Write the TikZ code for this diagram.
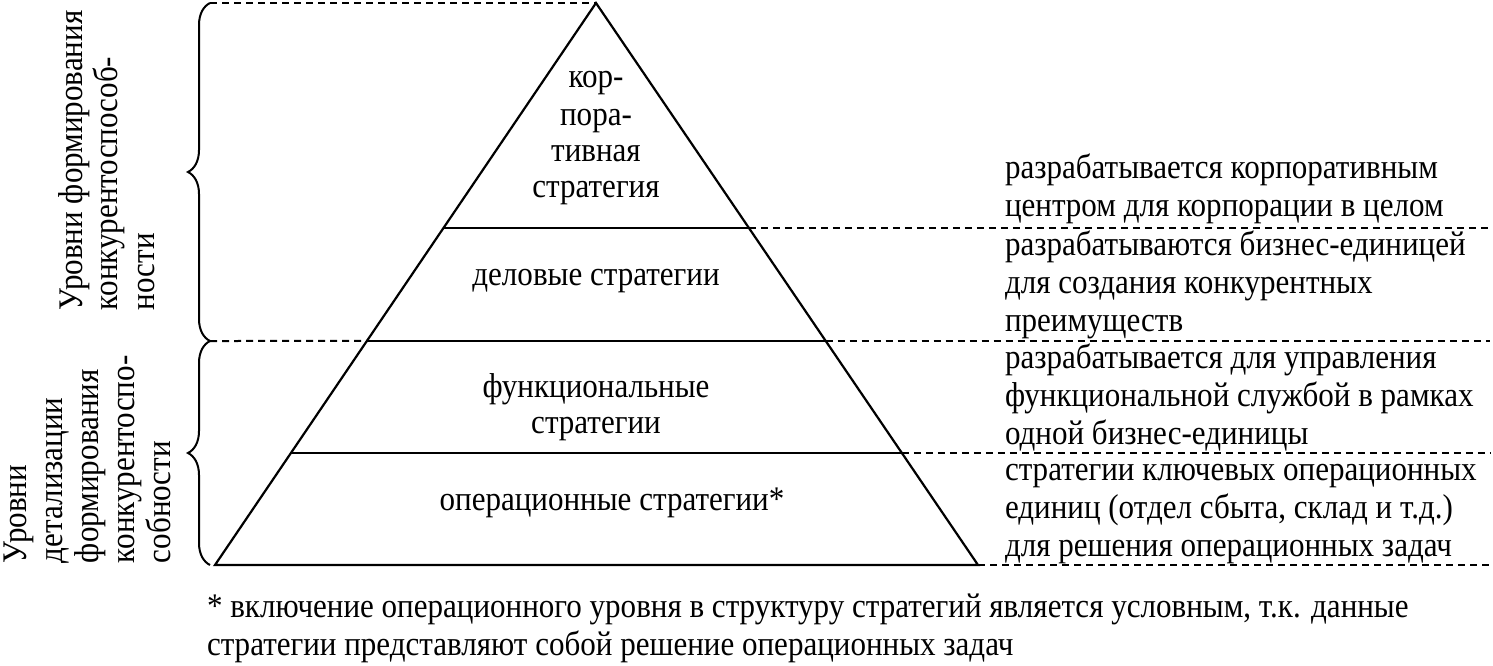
\documentclass[tikz,border=0pt]{standalone}
\usepackage{fontspec}
\setmainfont[FakeStretch=0.9]{Liberation Serif}
\usetikzlibrary{decorations.pathreplacing,calc}
\begin{document}
\begin{tikzpicture}[x=1pt,y=-1pt,
  every node/.style={inner sep=0pt, outer sep=0pt, font=\fontsize{34.5}{38}\selectfont},
  solidline/.style={line width=2.2pt, line join=miter},
  dashline/.style={line width=2pt, dash pattern=on 7pt off 5pt},
  bracestyle/.style={line width=2pt, decorate, decoration={brace, amplitude=22pt}},
  lbl/.style={anchor=base west},
  clbl/.style={anchor=base},
  vlbl/.style={rotate=90, anchor=base west},
]
\useasboundingbox (0,0) rectangle (1493,666);
% pyramid
\coordinate (A) at (596,3);
\coordinate (BL) at (215,565);
\coordinate (BR) at (978,565);
\coordinate (L1) at ($(A)!0.4004!(BL)$);
\coordinate (R1) at ($(A)!0.4004!(BR)$);
\coordinate (L2) at ($(A)!0.6014!(BL)$);
\coordinate (R2) at ($(A)!0.6014!(BR)$);
\coordinate (L3) at ($(A)!0.8007!(BL)$);
\coordinate (R3) at ($(A)!0.8007!(BR)$);
\coordinate (XE) at (1490,0);
% brace ends
\coordinate (BT) at (210,3);
\coordinate (BM) at (210,341);
\coordinate (BB) at (210,565);

\draw[solidline] (A) -- (BL) -- (BR) -- cycle;
\draw[solidline] (L1) -- (R1);
\draw[solidline] (L2) -- (R2);
\draw[solidline] (L3) -- (R3);

\draw[dashline] (BT) -- (A);
\draw[dashline] (BM) -- (L2);
\draw[dashline] (R1) -- (R1 -| XE);
\draw[dashline] (R2) -- (R2 -| XE);
\draw[dashline] (R3) -- (R3 -| XE);
\draw[dashline] (BR) -- (BR -| XE);

\draw[bracestyle] (BM) -- (BT);
\draw[bracestyle] (BB) -- (BM);

% pyramid texts
\node[clbl] (c1) at (596,88) {кор-};
\node[clbl] (c2) at (596,125) {пора-};
\node[clbl] (c3) at (596,161) {тивная};
\node[clbl] (c4) at (596,197) {стратегия};
\node[clbl] (d1) at (596,285) {деловые стратегии};
\node[clbl] (f1) at (596,397) {функциональные};
\node[clbl] (f2) at (596,433) {стратегии};
\node[clbl] (o1) at (612,510) {операционные стратегии*};

% right texts
\node[lbl] (r1a) at (1005,178) {разрабатывается корпоративным};
\node[lbl] (r1b) at (1005,216) {центром для корпорации в целом};
\node[lbl] (r2a) at (1005,255) {разрабатываются бизнес-единицей};
\node[lbl] (r2b) at (1005,293) {для создания конкурентных};
\node[lbl] (r2c) at (1005,331) {преимуществ};
\node[lbl] (r3a) at (1005,368) {разрабатывается для управления};
\node[lbl] (r3b) at (1005,406) {функциональной службой в рамках};
\node[lbl] (r3c) at (1005,444) {одной бизнес-единицы};
\node[lbl] (r4a) at (1005,480) {стратегии ключевых операционных};
\node[lbl] (r4b) at (1005,518) {единиц (отдел сбыта, склад и т.д.)};
\node[lbl] (r4c) at (1005,556) {для решения операционных задач};

% left rotated texts
\node[vlbl] (u1) at (82,310) {Уровни формирования};
\node[vlbl] (u2) at (117,310) {конкурентоспособ-};
\node[vlbl] (u3) at (154,310) {ности};
\node[vlbl] (v1) at (27,563) {Уровни};
\node[vlbl] (v2) at (62,563) {детализации};
\node[vlbl] (v3) at (98,563) {формирования};
\node[vlbl] (v4) at (134,563) {конкурентоспо-};
\node[vlbl] (v5) at (170,563) {собности};

% footnote
\node[lbl] (n1) at (207,617) {* включение операционного уровня в структуру стратегий является условным, т.к. данные};
\node[lbl] (n2) at (207,655) {стратегии представляют собой решение операционных задач};
\end{tikzpicture}
\end{document}
